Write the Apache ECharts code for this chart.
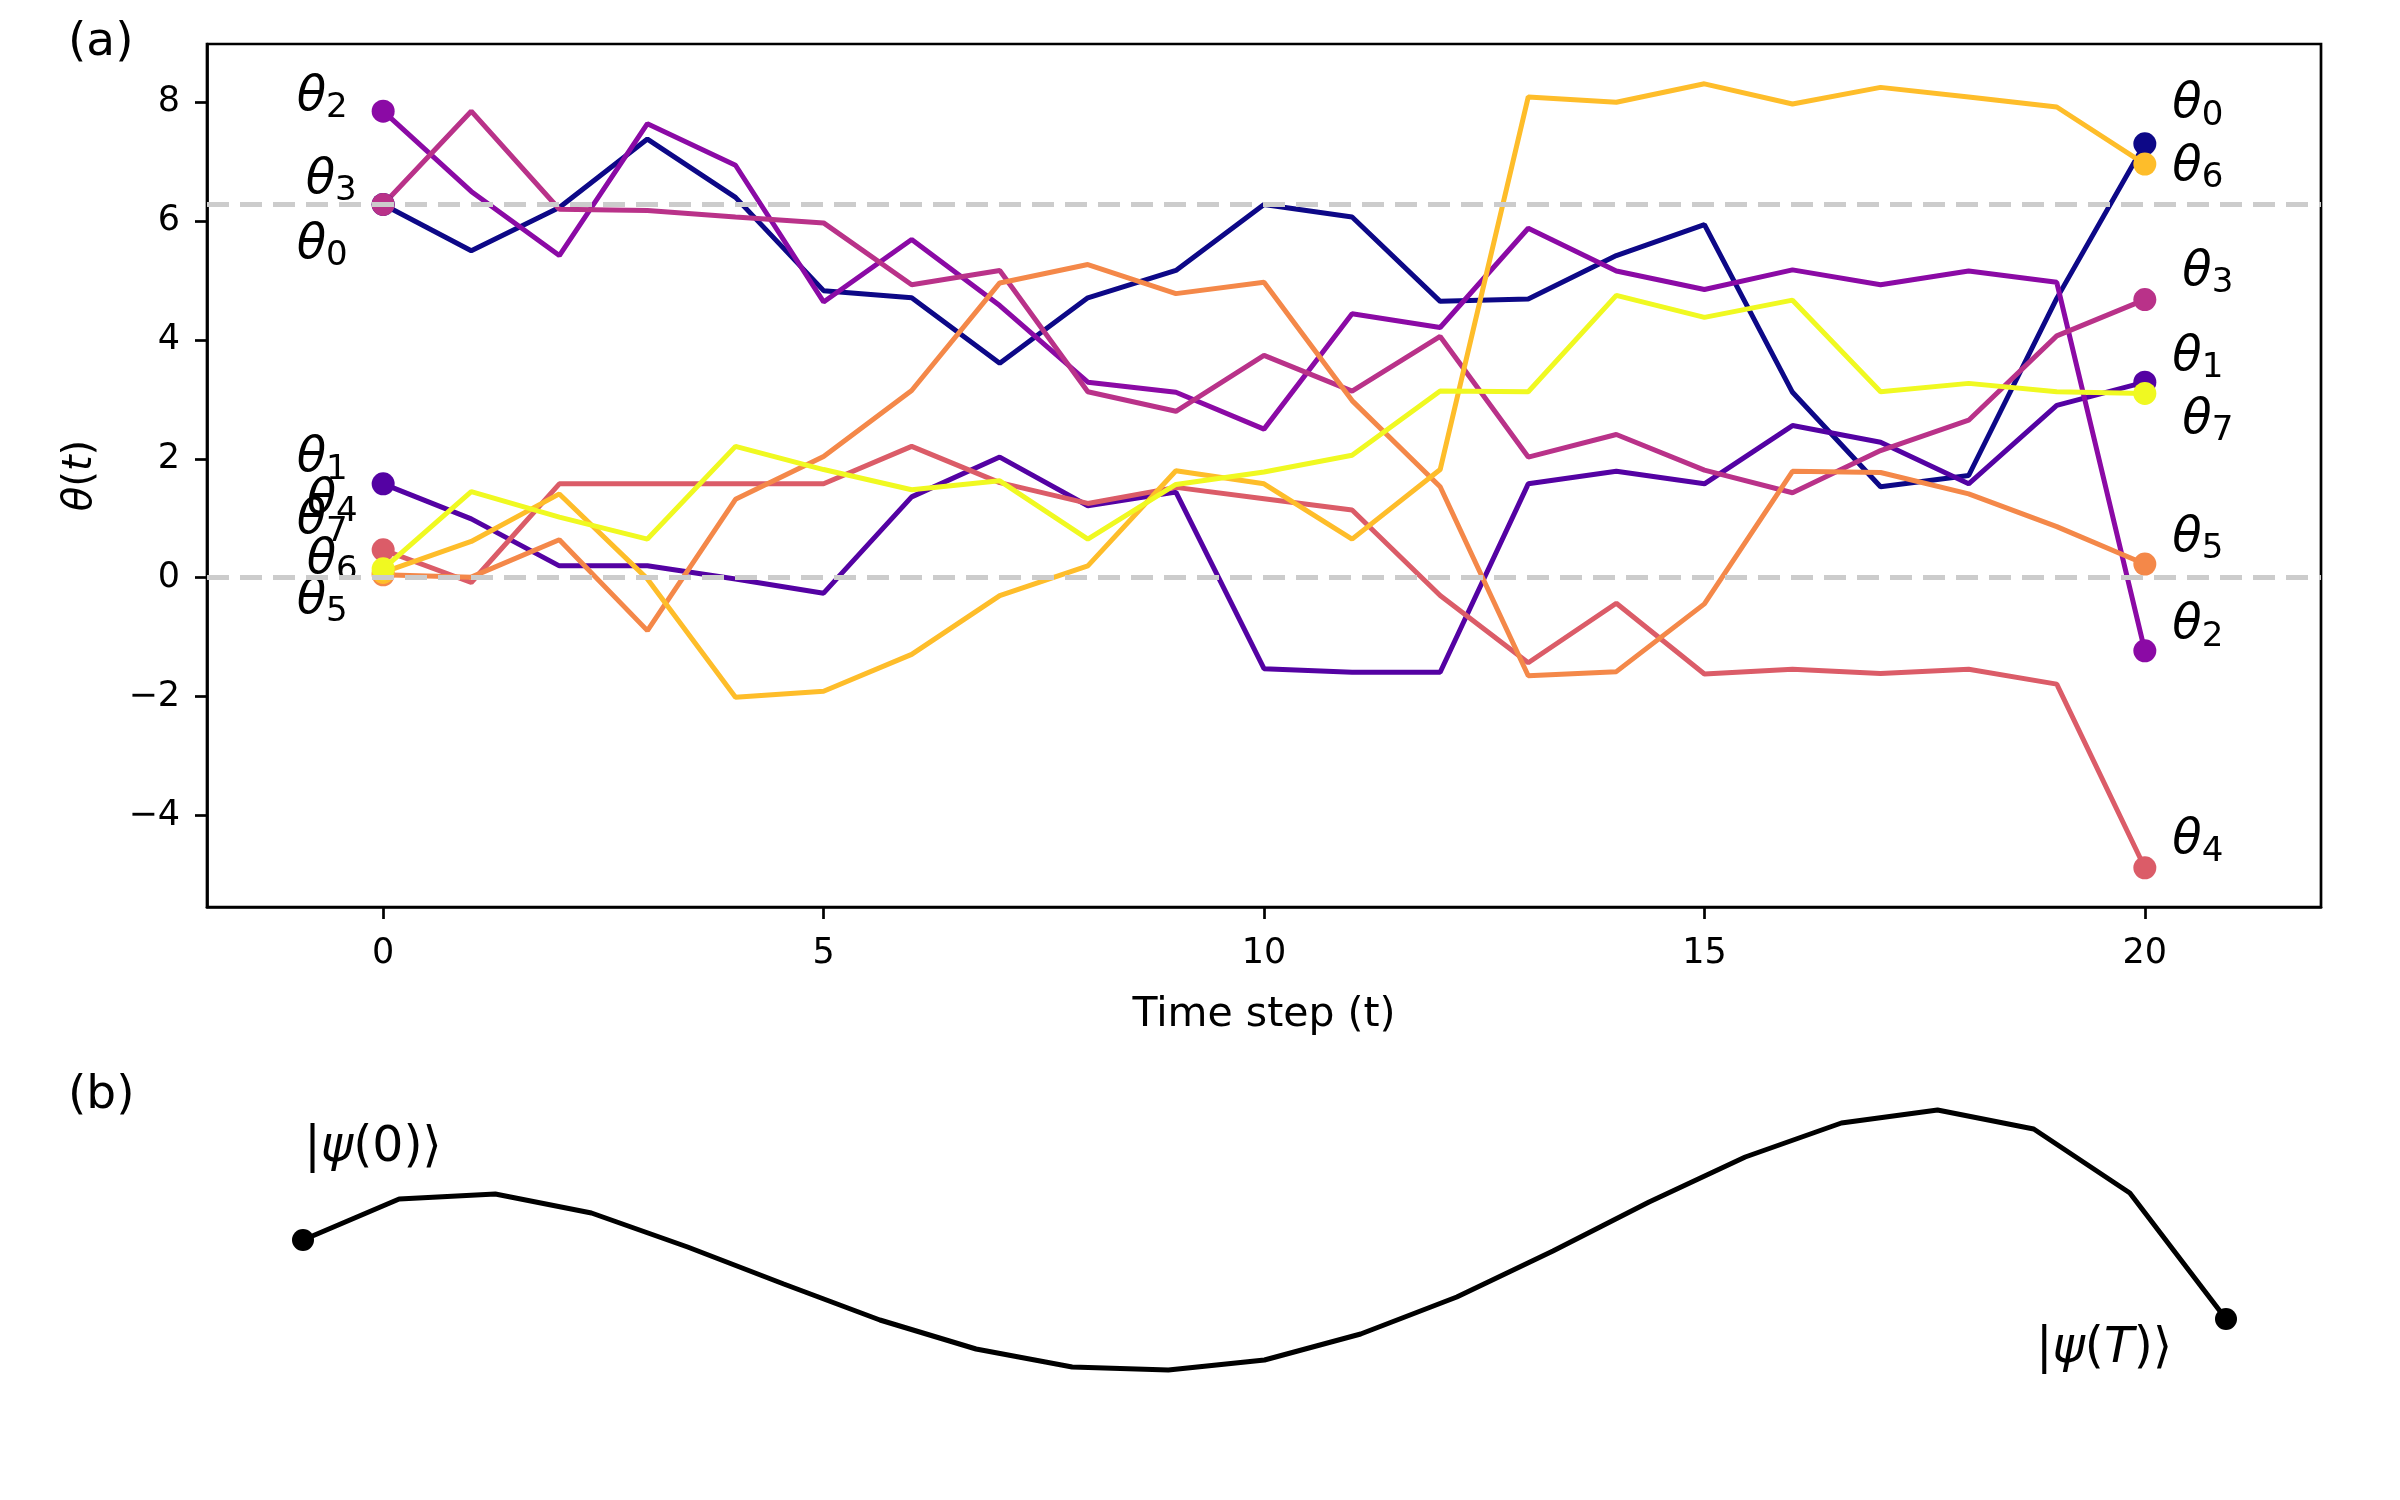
<!DOCTYPE html>
<html>
<head>
<meta charset="utf-8">
<title>theta trajectories</title>
<script src="https://cdn.jsdelivr.net/npm/echarts@6/dist/echarts.min.js"></script>
<style>
html, body { margin: 0; padding: 0; background: #fff; }
#chart { width: 2400px; height: 1500px; }
</style>
</head>
<body>
<div id="chart"></div>
<script>
// 时间步
var steps = [0, 1, 2, 3, 4, 5, 6, 7, 8, 9, 10, 11, 12, 13, 14, 15, 16, 17, 18, 19, 20];

// 各参数轨迹 theta_i(t)
var theta0 = [6.28, 5.50, 6.23, 7.38, 6.40, 4.83, 4.71, 3.61, 4.71, 5.17, 6.28, 6.07, 4.65, 4.69, 5.42, 5.94, 3.12, 1.53, 1.72, 4.70, 7.30];
var theta1 = [1.58, 0.99, 0.20, 0.20, -0.02, -0.26, 1.36, 2.03, 1.21, 1.44, -1.53, -1.59, -1.59, 1.58, 1.79, 1.58, 2.56, 2.28, 1.58, 2.90, 3.29];
var theta2 = [7.85, 6.50, 5.42, 7.64, 6.94, 4.64, 5.69, 4.58, 3.29, 3.12, 2.50, 4.44, 4.21, 5.88, 5.16, 4.85, 5.18, 4.93, 5.16, 4.97, -1.23];
var theta3 = [6.28, 7.85, 6.20, 6.18, 6.07, 5.97, 4.93, 5.17, 3.13, 2.80, 3.74, 3.14, 4.06, 2.03, 2.41, 1.81, 1.43, 2.14, 2.65, 4.07, 4.68];
var theta4 = [0.47, -0.08, 1.58, 1.58, 1.58, 1.58, 2.21, 1.60, 1.25, 1.52, 1.33, 1.14, -0.30, -1.43, -0.43, -1.62, -1.54, -1.61, -1.54, -1.79, -4.88];
var theta5 = [0.05, 0.01, 0.64, -0.89, 1.32, 2.04, 3.15, 4.96, 5.27, 4.78, 4.97, 2.98, 1.53, -1.65, -1.58, -0.44, 1.79, 1.77, 1.41, 0.86, 0.23];
var theta6 = [0.09, 0.61, 1.41, -0.02, -2.01, -1.91, -1.29, -0.30, 0.20, 1.80, 1.58, 0.65, 1.82, 8.09, 8.00, 8.31, 7.97, 8.25, 8.09, 7.92, 6.96];
var theta7 = [0.15, 1.45, 1.02, 0.65, 2.21, 1.82, 1.48, 1.63, 0.65, 1.57, 1.78, 2.06, 3.14, 3.13, 4.75, 4.38, 4.67, 3.13, 3.27, 3.13, 3.10];
var thetaList = [theta0, theta1, theta2, theta3, theta4, theta5, theta6, theta7];

// 参考线 0 和 2pi
var refLines = [0, 2 * Math.PI];

// 刻度
var xTicks = [0, 5, 10, 15, 20];
var yTicks = [-4, -2, 0, 2, 4, 6, 8];

// (b) 态演化路径的高度
var psiPath = [1.60, 2.01, 2.06, 1.87, 1.53, 1.16, 0.80, 0.51, 0.33, 0.30, 0.40, 0.66, 1.03, 1.49, 1.98, 2.43, 2.77, 2.90, 2.71, 2.07, 0.81];

// plasma 配色
var plasma = ["#0d0887", "#5402a3", "#8b0aa5", "#b93289", "#db5c68", "#f48849", "#febd2a", "#f0f921"];

// 端点标签偏移(像素)
var leftOffsets = [[-61, 41], [-61, -25], [-61, -14], [-52, -24], [-51, -49], [-61, 26], [-51, -12], [-61, -48]];
var rightOffsets = [[53, -39], [53, -25], [53, -25], [63, -27], [53, -27], [53, -26], [53, 3], [63, 27]];

var FONT = "DejaVu Sans";

var thetaRich = {
    th: {fontFamily: FONT, fontStyle: "italic", fontSize: 48, lineHeight: 56, color: "#000"},
    sub: {fontFamily: FONT, fontSize: 34, lineHeight: 30, verticalAlign: "bottom", color: "#000"}
};

var psiRich = {
    n: {fontFamily: FONT, fontSize: 49, color: "#000"},
    i: {fontFamily: FONT, fontStyle: "italic", fontSize: 49, color: "#000"}
};

function thetaLabel(i, off) {
    return {
        show: true,
        position: "inside",
        offset: off,
        formatter: "{th|θ}{sub|" + i + "}",
        rich: thetaRich
    };
}

function minusFmt(v) {
    return v < 0 ? "\u2212" + Math.abs(v) : String(v);
}

var last = steps.length - 1;
var series = [];

// 虚线参考线(放在最下层)
series.push({
    type: "line",
    xAxisIndex: 0,
    yAxisIndex: 0,
    data: [],
    silent: true,
    markLine: {
        silent: true,
        symbol: "none",
        label: {show: false},
        lineStyle: {color: "#cccccc", width: 5, type: [22, 11]},
        data: refLines.map(function (v) { return {yAxis: v}; })
    }
});

for (var i = 0; i < thetaList.length; i++) {
    var arr = thetaList[i];
    var data = [];
    for (var k = 0; k < steps.length; k++) {
        var item = {value: [steps[k], arr[k]]};
        if (k === 0) {
            item.label = thetaLabel(i, leftOffsets[i]);
        } else if (k === last) {
            item.label = thetaLabel(i, rightOffsets[i]);
        }
        data.push(item);
    }
    series.push({
        type: "line",
        name: "θ" + i,
        xAxisIndex: 0,
        yAxisIndex: 0,
        data: data,
        symbol: "circle",
        symbolSize: function (val, params) {
            return (params.dataIndex === 0 || params.dataIndex === last) ? 23 : 0;
        },
        showSymbol: true,
        lineStyle: {width: 5, color: plasma[i]},
        itemStyle: {color: plasma[i]},
        emphasis: {disabled: true}
    });
}

// (b) 路径
var psiData = [];
for (var j = 0; j < psiPath.length; j++) {
    var p = {value: [steps[j], psiPath[j]]};
    if (j === 0) {
        p.label = {show: true, position: "inside", offset: [70, -92], formatter: "{n||}{i|ψ}{n|(0)⟩}", rich: psiRich};
    } else if (j === last) {
        p.label = {show: true, position: "inside", offset: [-122, 30], formatter: "{n||}{i|ψ}{n|(}{i|T}{n|)⟩}", rich: psiRich};
    }
    psiData.push(p);
}
series.push({
    type: "line",
    xAxisIndex: 1,
    yAxisIndex: 1,
    data: psiData,
    symbol: "circle",
    symbolSize: function (val, params) {
        return (params.dataIndex === 0 || params.dataIndex === last) ? 22 : 0;
    },
    lineStyle: {width: 5, color: "#000"},
    itemStyle: {color: "#000"},
    emphasis: {disabled: true}
});

var option = {
    backgroundColor: "#fff",
    animation: false,
    grid: [
        {left: 207, right: 79, top: 44, bottom: 593, show: true, borderColor: "#000", borderWidth: 2.7, backgroundColor: "transparent"},
        {left: 303, right: 174, top: 1100, bottom: 100}
    ],
    xAxis: [
        {
            type: "value", gridIndex: 0, min: -2, max: 22,
            name: "Time step (t)", nameLocation: "middle", nameGap: 88,
            nameTextStyle: {fontFamily: FONT, fontSize: 41, color: "#000"},
            axisLine: {show: true, onZero: false, lineStyle: {color: "#000", width: 2.7}},
            axisTick: {show: true, length: 12, lineStyle: {color: "#000", width: 2.7}, customValues: xTicks},
            axisLabel: {margin: 29, customValues: xTicks, fontFamily: FONT, fontSize: 35, color: "#000", formatter: minusFmt},
            splitLine: {show: false}
        },
        {type: "value", gridIndex: 1, min: 0, max: 20, show: false}
    ],
    yAxis: [
        {
            type: "value", gridIndex: 0, min: -5.54, max: 8.98,
            name: "{i|θ}{n|(}{i|t}{n|)}", nameLocation: "middle", nameGap: 106, nameRotate: 90,
            nameTextStyle: {rich: {i: {fontFamily: FONT, fontStyle: "italic", fontSize: 40, color: "#000"}, n: {fontFamily: FONT, fontSize: 40, color: "#000"}}},
            axisLine: {show: true, onZero: false, lineStyle: {color: "#000", width: 2.7}},
            axisTick: {show: true, length: 12, lineStyle: {color: "#000", width: 2.7}, customValues: yTicks},
            axisLabel: {margin: 27, customValues: yTicks, fontFamily: FONT, fontSize: 35, color: "#000", formatter: minusFmt},
            splitLine: {show: false}
        },
        {type: "value", gridIndex: 1, min: 0, max: 3, show: false}
    ],
    graphic: [
        {type: "text", left: 68, top: 19, style: {text: "(a)", fontFamily: FONT, fontSize: 47, fill: "#000"}},
        {type: "text", left: 68, top: 1072, style: {text: "(b)", fontFamily: FONT, fontSize: 47, fill: "#000"}}
    ],
    series: series
};

var myChart = echarts.init(document.getElementById("chart"));
myChart.setOption(option);
</script>
</body>
</html>
